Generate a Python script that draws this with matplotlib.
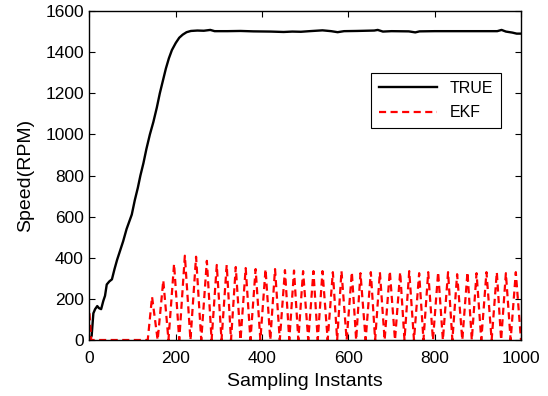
import matplotlib
matplotlib.use("Agg")
import matplotlib.pyplot as plt

plt.rcParams['font.family'] = ['Liberation Sans', 'DejaVu Sans']

# TRUE speed trace
true_x = [0, 5, 9, 13, 18, 22, 27, 32, 36, 40, 46, 52, 58, 64, 71, 78, 86, 92, 98,
          105, 112, 118, 125, 132, 140, 148, 156, 163, 170, 177, 184, 191, 200, 208,
          216, 225, 235, 250, 265, 280, 290, 320, 350, 380, 420, 450, 470, 490, 510,
          540, 560, 575, 590, 620, 660, 668, 680, 700, 740, 755, 765, 800, 850, 900,
          945, 955, 965, 980, 990, 1000]
true_y = [0, 20, 130, 150, 165, 155, 150, 190, 215, 270, 285, 295, 345, 390, 435, 480,
          540, 575, 610, 680, 740, 800, 860, 930, 1000, 1060, 1130, 1200, 1260, 1320,
          1370, 1410, 1445, 1470, 1485, 1497, 1503, 1505, 1504, 1508, 1502, 1502, 1503,
          1501, 1500, 1498, 1500, 1499, 1502, 1506, 1502, 1497, 1502, 1503, 1505, 1508,
          1500, 1502, 1501, 1496, 1501, 1502, 1502, 1502, 1502, 1508, 1500, 1495, 1490,
          1490]

# EKF estimate: initial segment, then peaks and troughs
ekf_start_x = [0, 4, 135]
ekf_start_y = [130, 0, 0]
peak_x = [145, 171, 196, 221, 247, 272, 295, 318, 339, 362, 385, 408, 430, 453, 474,
          495, 519, 540, 564, 584, 608, 628, 652, 673, 696, 720, 741, 764, 785, 808,
          831, 852, 876, 897, 920, 944, 965, 988]
peak_y = [210, 290, 370, 410, 405, 385, 365, 365, 355, 350, 345, 345, 345, 340, 338,
          335, 335, 335, 330, 335, 330, 325, 330, 330, 335, 330, 335, 325, 330, 330,
          330, 320, 330, 325, 330, 330, 325, 330]
trough_x = [158, 183, 208, 234, 259, 283, 306, 328, 350, 373, 396, 419, 441, 463, 484,
            507, 529, 552, 574, 596, 618, 640, 662, 684, 708, 730, 752, 774, 796, 819,
            841, 864, 886, 908, 932, 954, 976, 1000]
trough_y = [0] * len(trough_x)

ekf_x = list(ekf_start_x)
ekf_y = list(ekf_start_y)
for px, py, tx, ty in zip(peak_x, peak_y, trough_x, trough_y):
    ekf_x += [px, tx]
    ekf_y += [py, ty]

fig = plt.figure(figsize=(5.48, 3.96), dpi=100)
ax = fig.add_axes([0.1633, 0.1414, 0.7874, 0.8308])

ax.plot(true_x, true_y, color='black', lw=1.7, label='TRUE')
ax.plot(ekf_x, ekf_y, color='red', lw=1.6, ls=(0, (3.2, 2.0)), label='EKF')

ax.set_xlim(0, 1000)
ax.set_ylim(0, 1600)
ax.set_xticks(range(0, 1001, 200))
ax.set_yticks(range(0, 1601, 200))
ax.tick_params(direction='in', top=True, right=True, length=4, labelsize=12.5, width=0.8)
ax.tick_params(axis='x', pad=8)
ax.tick_params(axis='y', pad=4)
for s in ax.spines.values():
    s.set_linewidth(1.0)

ax.set_xlabel('Sampling Instants', fontsize=14, labelpad=5)
ax.set_ylabel('Speed(RPM)', fontsize=14, labelpad=8)

leg = ax.legend(loc='upper left', bbox_to_anchor=(0.635, 0.837), fontsize=11.5,
                frameon=True, fancybox=False, edgecolor='black', framealpha=1,
                handlelength=3.6, borderpad=0.5, labelspacing=0.6)
leg.get_frame().set_linewidth(0.8)

fig.savefig('out.png', dpi=100)
